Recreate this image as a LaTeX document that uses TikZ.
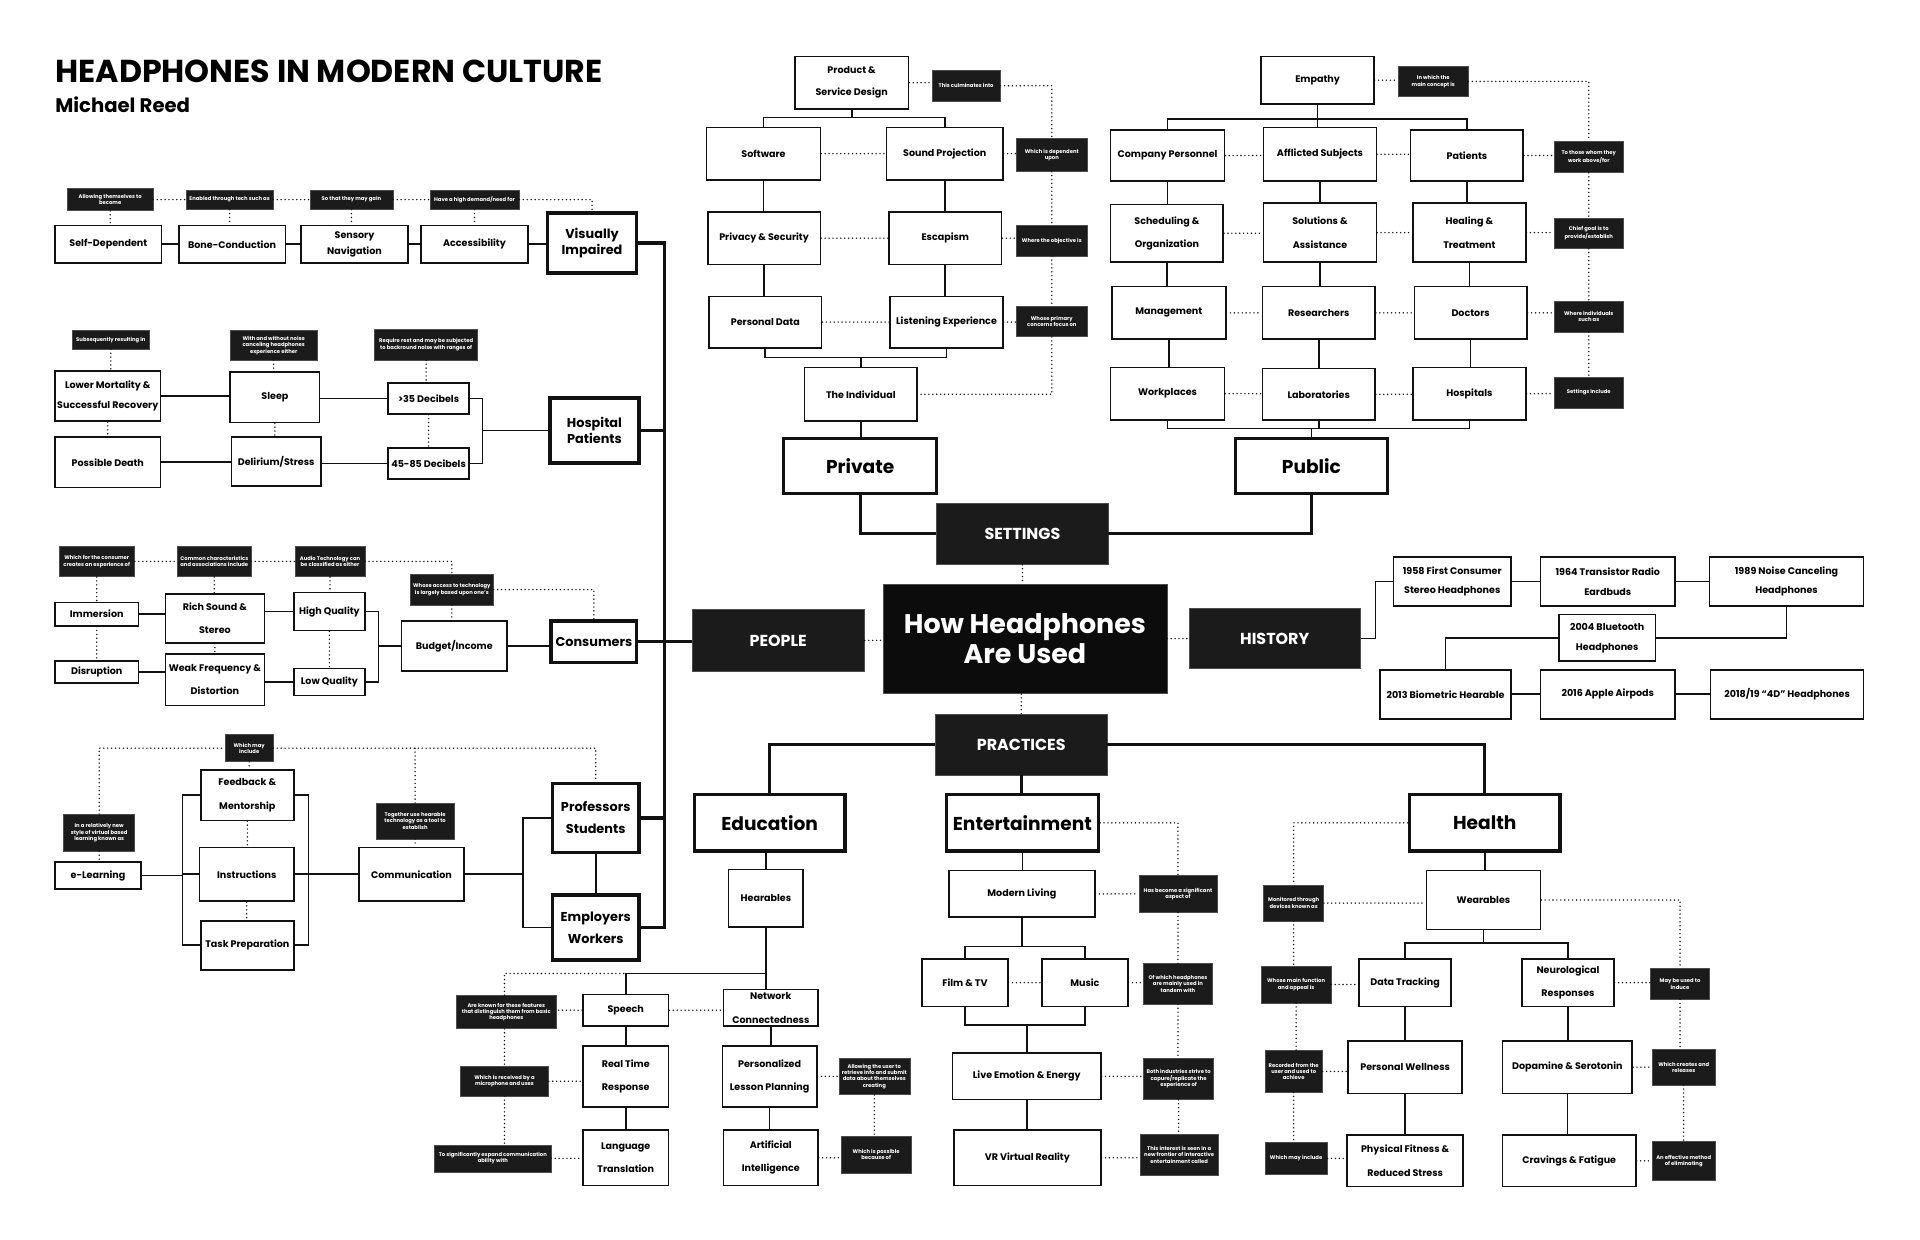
\documentclass[tikz,border=0pt]{standalone}
\usepackage{fontspec}
\setmainfont{Poppins}
\usetikzlibrary{calc}
\definecolor{ink}{HTML}{111111}
\definecolor{labbg}{HTML}{1B1B1B}
\definecolor{ctrbg}{HTML}{0C0C0C}
\tikzset{
  box/.style={draw=ink, line width=1.3pt, fill=white, align=center, inner sep=0pt, font=\fontsize{7.8}{18}\selectfont\bfseries},
  ls/.style={font=\fontsize{7.8}{#1}\selectfont\bfseries},
  tbox/.style={box, line width=2.8pt},
  pf/.style={font=\fontsize{10.5}{13}\selectfont\bfseries},
  pfb/.style={font=\fontsize{10.5}{18}\selectfont\bfseries},
  tf/.style={font=\fontsize{15.2}{17}\selectfont\bfseries},
  lab/.style={fill=labbg, draw=gray!60!black, line width=0.4pt, text=white, align=center, inner sep=0pt, font=\fontsize{4.3}{5.2}\selectfont\bfseries},
  cat/.style={fill=labbg, draw=gray!60!black, line width=0.5pt, text=white, inner sep=0pt, align=center, font=\fontsize{13}{15}\selectfont\bfseries},
  ctrs/.style={cat, fill=ctrbg, font=\fontsize{22}{25}\selectfont\bfseries},
  con/.style={draw=ink, line width=1.4pt},
  thk/.style={draw=ink, line width=2.6pt},
  dot/.style={draw=ink, line width=1.3pt, dash pattern=on 0pt off 3.2pt, line cap=round}
}
\newcommand\mybox[7]{%
  \pgfmathsetmacro\bxw{#4-#2}%
  \pgfmathsetmacro\bxh{#5-#3}%
  \pgfmathsetmacro\bxx{(#2+#4)/2}%
  \pgfmathsetmacro\bxy{(#3+#5)/2}%
  \node[#6, minimum width=\bxw pt, minimum height=\bxh pt] (#1) at (\bxx,\bxy) {#7};}
\begin{document}
\begin{tikzpicture}[x=1pt,y=-1pt]
\path[use as bounding box, fill=white] (0,0) rectangle (1568,1012);

% Title
\node[anchor=base west, inner sep=0pt, font=\bfseries] (title) at (45,67) {\resizebox{447pt}{!}{HEADPHONES IN MODERN CULTURE}};
\node[anchor=base west, inner sep=0pt, font=\bfseries] (author) at (45,92) {\resizebox{110pt}{!}{Michael Reed}};

% ---------- Visually impaired
\mybox{sd}{45}{184}{132}{215}{box}{Self-Dependent}
\mybox{bc}{146}{184}{233}{215}{box}{Bone-Conduction}
\mybox{sn}{246}{184}{333}{215}{box,ls=13}{Sensory\\Navigation}
\mybox{acc}{344}{184}{431}{215}{box}{Accessibility}
\mybox{vi}{447}{174}{520}{223}{tbox,pf}{Visually\\Impaired}
\mybox{l1}{55}{154}{125}{172}{lab}{Allowing themselves to\\become}
\mybox{l2}{152}{155}{223}{171}{lab}{Enabled through tech such as}
\mybox{l3}{253}{155}{321}{171}{lab}{So that they may gain}
\mybox{l4}{351}{155}{424}{171}{lab}{Have a high demand/need for}

% ---------- Hospital
\mybox{lm}{45}{303}{131}{344}{box,ls=16}{Lower Mortality \&\\Successful Recovery}
\mybox{pd}{45}{357}{131}{398}{box}{Possible Death}
\mybox{sl}{188}{304}{261}{345}{box}{Sleep}
\mybox{dst}{189}{357}{262}{397}{box}{Delirium/Stress}
\mybox{d35}{317}{313}{383}{338}{box}{>35 Decibels}
\mybox{d45}{317}{366}{383}{391}{box}{45-85 Decibels}
\mybox{hp}{449}{325}{522}{378}{tbox,pf}{Hospital\\Patients}
\mybox{h1}{59}{270}{122}{285}{lab}{Subsequently resulting in}
\mybox{h2}{188}{270}{259}{294}{lab}{With and without noise\\canceling headphones\\experience either}
\mybox{h3}{306}{269}{390}{294}{lab}{Require rest and may be subjected\\to backround noise with ranges of}

% ---------- Consumers
\mybox{im}{45}{492}{113}{511}{box}{Immersion}
\mybox{di}{45}{540}{113}{558}{box}{Disruption}
\mybox{rs}{135}{485}{216}{525}{box,ls=19}{Rich Sound \&\\Stereo}
\mybox{wf}{135}{534}{216}{576}{box,ls=19}{Weak Frequency \&\\Distortion}
\mybox{hq}{240}{484}{298}{515}{box}{High Quality}
\mybox{lq}{240}{546}{298}{568}{box}{Low Quality}
\mybox{bi}{328}{507}{414}{548}{box}{Budget/Income}
\mybox{co}{450}{507}{520}{541}{tbox,pf}{Consumers}
\mybox{c1}{48}{446}{110}{471}{lab}{Which for the consumer\\creates an experience of}
\mybox{c2}{145}{446}{205}{471}{lab}{Common characteristics\\and associations include}
\mybox{c3}{241}{446}{298}{471}{lab}{Audio Technology can\\be classified as either}
\mybox{c4}{335}{469}{403}{494}{lab}{Whose access to technology\\is largely based upon one's}

% ---------- Professors
\mybox{el}{45}{704}{115}{726}{box}{e-Learning}
\mybox{fm}{164}{629}{240}{670}{box,ls=19}{Feedback \&\\Mentorship}
\mybox{ins}{163}{692}{240}{736}{box}{Instructions}
\mybox{tp}{164}{752}{240}{792}{box}{Task Preparation}
\mybox{cm}{293}{692}{379}{736}{box}{Communication}
\mybox{ps}{451}{640}{522}{696}{tbox,pfb}{Professors\\Students}
\mybox{ew}{451}{731}{522}{784}{tbox,pfb}{Employers\\Workers}
\mybox{p1}{184}{600}{223}{622}{lab}{Which may\\include}
\mybox{p2}{52}{665}{110}{695}{lab}{In a relatively new\\style of virtual based\\learning known as}
\mybox{p3}{307}{656}{371}{685}{lab}{Together use hearable\\technology as a tool to\\establish}

% ---------- Private
\mybox{psd}{649}{46}{742}{89}{box}{Product \&\\Service Design}
\mybox{sw}{577}{104}{670}{147}{box}{Software}
\mybox{spj}{724}{104}{819}{147}{box}{Sound Projection}
\mybox{pse}{578}{173}{670}{216}{box}{Privacy \& Security}
\mybox{esc}{726}{173}{818}{216}{box}{Escapism}
\mybox{pda}{579}{242}{671}{284}{box}{Personal Data}
\mybox{le}{727}{242}{819}{284}{box}{Listening Experience}
\mybox{ti}{657}{300}{749}{344}{box}{The Individual}
\mybox{pri}{640}{358}{765}{403}{tbox,tf}{Private}
\mybox{q1}{761}{57}{817}{83}{lab}{This culminates into}
\mybox{q2}{830}{113}{888}{140}{lab}{Which is dependent\\upon}
\mybox{q3}{830}{184}{888}{209}{lab}{Where the objective is}
\mybox{q4}{830}{250}{888}{275}{lab}{Whose primary\\concerns focus on}

% ---------- Public
\mybox{emp}{1030}{46}{1122}{85}{box}{Empathy}
\mybox{cp}{907}{106}{1000}{148}{box}{Company Personnel}
\mybox{as}{1032}{104}{1124}{148}{box}{Afflicted Subjects}
\mybox{pat}{1152}{106}{1244}{148}{box}{Patients}
\mybox{sch}{907}{167}{999}{214}{box,ls=19}{Scheduling \&\\Organization}
\mybox{sol}{1032}{166}{1124}{214}{box,ls=19}{Solutions \&\\Assistance}
\mybox{hea}{1154}{166}{1246}{214}{box,ls=19}{Healing \&\\Treatment}
\mybox{mg}{908}{234}{1001}{277}{box}{Management}
\mybox{rsr}{1031}{234}{1123}{277}{box}{Researchers}
\mybox{doc}{1155}{234}{1247}{277}{box}{Doctors}
\mybox{wp}{907}{300}{1000}{343}{box}{Workplaces}
\mybox{lbs}{1031}{301}{1123}{343}{box}{Laboratories}
\mybox{hos}{1154}{300}{1246}{343}{box}{Hospitals}
\mybox{pub}{1009}{358}{1133}{403}{tbox,tf}{Public}
\mybox{r1}{1142}{54}{1199}{79}{lab}{In which the\\main concept is}
\mybox{t1}{1269}{115}{1326}{141}{lab}{To those whom they\\work above/for}
\mybox{t2}{1269}{178}{1326}{203}{lab}{Chief goal is to\\provide/establish}
\mybox{t3}{1269}{246}{1326}{271}{lab}{Where individuals\\such as}
\mybox{t4}{1269}{308}{1326}{333}{lab}{Settings Include}

% ---------- Center
\mybox{set}{765}{411}{905}{461}{cat}{SETTINGS}
\mybox{ctr}{721}{477}{953}{566}{ctrs}{How Headphones\\Are Used}
\mybox{ppl}{565}{498}{706}{548}{cat}{PEOPLE}
\mybox{his}{971}{497}{1111}{546}{cat}{HISTORY}
\mybox{pra}{764}{583}{904}{633}{cat}{PRACTICES}

% ---------- History
\mybox{h58}{1138}{455}{1234}{495}{box,ls=16}{1958 First Consumer\\Stereo Headphones}
\mybox{h64}{1258}{455}{1368}{495}{box,ls=16}{1964 Transistor Radio\\Eardbuds}
\mybox{h89}{1396}{455}{1522}{495}{box,ls=16}{1989 Noise Canceling\\Headphones}
\mybox{h04}{1273}{502}{1352}{540}{box,ls=16}{2004 Bluetooth\\Headphones}
\mybox{h13}{1127}{547}{1234}{587}{box}{2013 Biometric Hearable}
\mybox{h16}{1258}{547}{1368}{587}{box}{2016 Apple Airpods}
\mybox{h18}{1397}{547}{1522}{587}{box}{2018/19 “4D” Headphones}

% ---------- Practices
\mybox{edu}{567}{649}{690}{695}{tbox,tf}{Education}
\mybox{ent}{773}{649}{897}{695}{tbox,tf}{Entertainment}
\mybox{hlt}{1151}{649}{1274}{695}{tbox,tf}{Health}

% Education
\mybox{hrb}{595}{710}{656}{757}{box}{Hearables}
\mybox{spc}{476}{812}{546}{838}{box}{Speech}
\mybox{net}{591}{808}{668}{838}{box,ls=20}{Network\\Connectedness}
\mybox{rtr}{476}{854}{546}{904}{box,ls=19}{Real Time\\Response}
\mybox{ltr}{476}{923}{546}{968}{box,ls=19}{Language\\Translation}
\mybox{plp}{590}{854}{667}{904}{box,ls=19}{Personalized\\Lesson Planning}
\mybox{ai}{591}{923}{668}{968}{box,ls=19}{Artificial\\Intelligence}
\mybox{e1}{373}{813}{454}{840}{lab}{Are known for these features\\that distinguish them from basic\\headphones}
\mybox{e2}{376}{871}{448}{895}{lab}{Which is received by a\\microphone and uses}
\mybox{e3}{355}{935}{450}{957}{lab}{To significantly expand communication\\ability with}
\mybox{e4}{685}{864}{743}{894}{lab}{Allowing the user to\\retrieve info and submit\\data about themselves\\creating}
\mybox{e5}{687}{928}{744}{958}{lab}{Which is possible\\because of}

% Entertainment
\mybox{ml}{775}{711}{894}{749}{box}{Modern Living}
\mybox{flm}{753}{783}{823}{822}{box}{Film \& TV}
\mybox{mus}{851}{783}{921}{822}{box}{Music}
\mybox{lee}{778}{860}{899}{898}{box}{Live Emotion \& Energy}
\mybox{vr}{779}{923}{899}{968}{box}{VR Virtual Reality}
\mybox{n1}{930}{715}{994}{745}{lab}{Has become a significant\\aspect of}
\mybox{n2}{934}{787}{990}{820}{lab}{Of which headphones\\are mainly used in\\tandem with}
\mybox{n3}{934}{864}{991}{898}{lab}{Both industries strive to\\capure/replicate the\\experience of}
\mybox{n4}{931}{926}{995}{960}{lab}{This interest is seen in a\\new frontier of interactive\\entertainment called}

% Health
\mybox{wea}{1165}{711}{1258}{759}{box}{Wearables}
\mybox{dtr}{1110}{783}{1185}{822}{box}{Data Tracking}
\mybox{neu}{1243}{783}{1318}{822}{box,ls=19}{Neurological\\Responses}
\mybox{pw}{1101}{850}{1194}{893}{box}{Personal Wellness}
\mybox{dop}{1227}{850}{1333}{893}{box}{Dopamine \& Serotonin}
\mybox{pf}{1100}{927}{1195}{969}{box,ls=19}{Physical Fitness \&\\Reduced Stress}
\mybox{cf}{1227}{927}{1336}{969}{box}{Cravings \& Fatigue}
\mybox{m1}{1032}{723}{1081}{752}{lab}{Monitored through\\devices known as}
\mybox{m2}{1030}{789}{1087}{819}{lab}{Whose main function\\and appeal is}
\mybox{m3}{1033}{858}{1080}{892}{lab}{Recorded from the\\user and used to\\achieve}
\mybox{m4}{1033}{933}{1084}{959}{lab}{Which may include}
\mybox{k1}{1348}{791}{1396}{816}{lab}{May be used to\\induce}
\mybox{k2}{1349}{857}{1401}{886}{lab}{Which creates and\\releases}
\mybox{k3}{1349}{932}{1401}{964}{lab}{An effective method\\of eliminating}

% ================= CONNECTORS =================
% Visually impaired
\draw[con] (sd.east) -- (bc.west);
\draw[con] (bc.east) -- (sn.west);
\draw[con] (sn.east) -- (acc.west);
\draw[con] (acc.east) -- (acc.east -| vi.west);
\draw[dot] (l1.east) -- (l1.east -| l2.west);
\draw[dot] (l2.east) -- (l2.east -| l3.west);
\draw[dot] (l3.east) -- (l3.east -| l4.west);
\draw[dot] (l4.east) -| (vi.north);
\draw[dot] (l1.south) -- (l1.south |- sd.north);
\draw[dot] (l2.south) -- (l2.south |- bc.north);
\draw[dot] (l3.south) -- (l3.south |- sn.north);
\draw[dot] (l4.south) -- (l4.south |- acc.north);

% spine
\coordinate (sp) at (543,199);
\draw[thk] (vi.east) -- (vi.east -| sp) -- (sp |- ew.east) -- (ew.east);
\draw[thk] (hp.east) -- (hp.east -| sp);
\draw[thk] (co.east) -- (co.east -| ppl.west);
\draw[thk] (ps.east) -- (ps.east -| sp);

% Hospital
\draw[con] (lm.east) -- (lm.east -| sl.west);
\draw[con] (d35.west -| sl.east) -- (d35.west);
\draw[con] (pd.east) -- (pd.east -| dst.west);
\draw[con] (d45.west -| dst.east) -- (d45.west);
\coordinate (hbr) at (394,0);
\draw[con] (d35.east) -- (d35.east -| hbr) -- (hbr |- d45.east) -- (d45.east);
\draw[con] (hbr |- hp.west) -- (hp.west);
\draw[dot] (h1.south) -- (h1.south |- lm.north);
\draw[dot] (lm.south) -- (lm.south |- pd.north);
\draw[dot] (h2.south) -- (h2.south |- sl.north);
\draw[dot] (sl.south) -- (sl.south |- dst.north);
\draw[dot] (h3.south) -- (h3.south |- d35.north);
\draw[dot] (d35.south) -- (d35.south |- d45.north);

% Consumers
\draw[con] (im.east) -- (im.east -| rs.west);
\draw[con] (di.east) -- (di.east -| wf.west);
\draw[con] (hq.west) -- (hq.west -| rs.east);
\draw[con] (lq.west) -- (lq.west -| wf.east);
\coordinate (cbr) at (309,0);
\draw[con] (hq.east) -- (hq.east -| cbr) -- (cbr |- lq.east) -- (lq.east);
\draw[con] (cbr |- bi.west) -- (bi.west);
\draw[con] (bi.east) -- (bi.east -| co.west);
\draw[dot] (c1.east) -- (c1.east -| c2.west);
\draw[dot] (c2.east) -- (c2.east -| c3.west);
\draw[dot] (c3.east) -| (c4.north);
\draw[dot] (c4.east) -| (co.north);
\draw[dot] (c1.south) -- (c1.south |- im.north);
\draw[dot] (im.south) -- (im.south |- di.north);
\draw[dot] (c2.south) -- (c2.south |- rs.north);
\draw[dot] (rs.south) -- (rs.south |- wf.north);
\draw[dot] (c3.south) -- (c3.south |- hq.north);
\draw[dot] (hq.south) -- (hq.south |- lq.north);
\draw[dot] (c4.south) -- (c4.south |- bi.north);

% Professors
\coordinate (pbL) at (149,0);
\coordinate (pbR) at (252,0);
\coordinate (pbC) at (427,0);
\draw[con] (fm.west) -- (fm.west -| pbL) -- (pbL |- tp.west) -- (tp.west);
\draw[con] (el.east) -- (el.east -| pbL);
\draw[con] (ins.west) -- (ins.west -| pbL);
\draw[con] (fm.east) -- (fm.east -| pbR) -- (pbR |- tp.east) -- (tp.east);
\draw[con] (ins.east) -- (ins.east -| cm.west);
\draw[con] (cm.east) -- (cm.east -| pbC);
\draw[con] (ps.west) -- (ps.west -| pbC) -- (pbC |- ew.west) -- (ew.west);
\draw[con] (ps.south) -- (ps.south |- ew.north);
\draw[dot] (p2.north) |- (p1.west);
\draw[dot] (p1.east) -| (ps.north);
\draw[dot] (p3.north) -- (p3.north |- p1.east);
\draw[dot] (p1.south) -- (p1.south |- fm.north);
\draw[dot] (fm.south) -- (fm.south |- ins.north);
\draw[dot] (ins.south) -- (ins.south |- tp.north);
\draw[dot] (p2.south) -- (p2.south |- el.north);
\draw[dot] (p3.south) -- (p3.south |- cm.north);

% Private
\coordinate (hpt) at (0,96);
\draw[con] (sw.north) |- (hpt -| psd.south) -| (spj.north);
\draw[con] (psd.south) -- (psd.south |- hpt);
\draw[con] (sw.south) -- (sw.south |- pse.north);
\draw[con] (pse.south) -- (pse.south |- pda.north);
\draw[con] (spj.south) -- (spj.south |- esc.north);
\draw[con] (esc.south) -- (esc.south |- le.north);
\coordinate (hpb) at (0,292);
\draw[con] (pda.south) |- (hpb -| ti.north) -| (le.south);
\draw[con] (ti.north) -- (ti.north |- hpb);
\draw[con] (ti.south) -- (ti.south |- pri.north);
\draw[dot] (psd.east) -- (psd.east -| q1.west);
\draw[dot] (q1.east) -| (q2.north);
\draw[dot] (q2.south) -- (q2.south |- q3.north);
\draw[dot] (q3.south) -- (q3.south |- q4.north);
\draw[dot] (q4.south) |- (ti.east);
\draw[dot] (sw.east) -- (sw.east -| spj.west);
\draw[dot] (spj.east) -- (spj.east -| q2.west);
\draw[dot] (pse.east) -- (pse.east -| esc.west);
\draw[dot] (esc.east) -- (esc.east -| q3.west);
\draw[dot] (pda.east) -- (pda.east -| le.west);
\draw[dot] (le.east) -- (le.east -| q4.west);

% Public
\coordinate (hqt) at (0,97);
\draw[con] (cp.north) |- (hqt -| emp.south) -| (pat.north);
\draw[con] (emp.south) -- (emp.south |- as.north);
\draw[con] (cp.south) -- (cp.south |- sch.north);
\draw[con] (sch.south) -- (sch.south |- mg.north);
\draw[con] (mg.south) -- (mg.south |- wp.north);
\draw[con] (as.south) -- (as.south |- sol.north);
\draw[con] (sol.south) -- (sol.south |- rsr.north);
\draw[con] (rsr.south) -- (rsr.south |- lbs.north);
\draw[con] (pat.south) -- (pat.south |- hea.north);
\draw[con] (hea.south) -- (hea.south |- doc.north);
\draw[con] (doc.south) -- (doc.south |- hos.north);
\coordinate (hqb) at (0,350);
\draw[con] (wp.south) |- (hqb -| hos.south) -- (hos.south);
\draw[con] (lbs.south) -- (lbs.south |- hqb);
\draw[con] (pub.north) -- (pub.north |- hqb);
\draw[dot] (emp.east) -- (emp.east -| r1.west);
\draw[dot] (r1.east) -| (t1.north);
\draw[dot] (t1.south) -- (t1.south |- t2.north);
\draw[dot] (t2.south) -- (t2.south |- t3.north);
\draw[dot] (t3.south) -- (t3.south |- t4.north);
\draw[dot] (cp.east) -- (cp.east -| as.west);
\draw[dot] (as.east) -- (as.east -| pat.west);
\draw[dot] (pat.east) -- (pat.east -| t1.west);
\draw[dot] (sch.east) -- (sch.east -| sol.west);
\draw[dot] (sol.east) -- (sol.east -| hea.west);
\draw[dot] (hea.east) -- (hea.east -| t2.west);
\draw[dot] (mg.east) -- (mg.east -| rsr.west);
\draw[dot] (rsr.east) -- (rsr.east -| doc.west);
\draw[dot] (doc.east) -- (doc.east -| t3.west);
\draw[dot] (wp.east) -- (wp.east -| lbs.west);
\draw[dot] (lbs.east) -- (lbs.east -| hos.west);
\draw[dot] (hos.east) -- (hos.east -| t4.west);

% Settings
\draw[thk] (pri.south) |- (set.west);
\draw[thk] (pub.south) |- (set.east);

% Center dotted
\draw[dot] (set.south) -- (set.south |- ctr.north);
\draw[dot] (pra.north) -- (pra.north |- ctr.south);
\draw[dot] (ppl.east) -- (ppl.east -| ctr.west);
\draw[dot] (ctr.east) -- (ctr.east -| his.west);

% History
\draw[con] (his.east) -- ++(12,0) |- (h58.west);
\draw[con] (h58.east) -- (h64.west);
\draw[con] (h64.east) -- (h89.west);
\draw[con] (h89.south) |- (h04.east);
\draw[con] (h04.west) -| (h13.north);
\draw[con] (h13.east) -- (h16.west);
\draw[con] (h16.east) -- (h18.west);

% Practices
\draw[thk] (pra.west) -| (edu.north);
\draw[thk] (pra.south) -- (pra.south |- ent.north);
\draw[thk] (pra.east) -| (hlt.north);

% Education
\coordinate (hbd) at (0,795);
\coordinate (ev) at (412,0);
\draw[con] (hrb.north) -- (hrb.north |- edu.south);
\draw[con] (spc.north) |- (hbd -| hrb.south) -- (hrb.south);
\draw[con] (hbd -| hrb.south) -- (net.north -| hrb.south);
\draw[con] (spc.south) -- (spc.south |- rtr.north);
\draw[con] (rtr.south) -- (rtr.south |- ltr.north);
\draw[con] (net.south) -- (net.south |- plp.north);
\draw[con] (plp.south) -- (plp.south |- ai.north);
\draw[dot] (ev |- e1.north) |- (hbd -| spc.north);
\draw[dot] (spc.west) -- (spc.west -| e1.east);
\draw[dot] (spc.east) -- (spc.east -| net.west);
\draw[dot] (ev |- e1.south) -- (ev |- e2.north);
\draw[dot] (ev |- e2.south) -- (ev |- e3.north);
\draw[dot] (e2.east) -- (e2.east -| rtr.west);
\draw[dot] (e3.east) -- (e3.east -| ltr.west);
\draw[dot] (plp.east) -- (plp.east -| e4.west);
\draw[dot] (ai.east) -- (ai.east -| e5.west);
\draw[dot] (e4.south) -- (e4.south |- e5.north);

% Entertainment
\coordinate (hbe) at (0,773);
\coordinate (hbf) at (0,837);
\draw[con] (ent.south) -- (ent.south |- ml.north);
\draw[con] (ml.south) -- (ml.south |- hbe);
\draw[con] (flm.north) |- (hbe -| ml.south) -| (mus.north);
\draw[con] (flm.south) |- (hbf -| lee.north) -| (mus.south);
\draw[con] (lee.north) -- (lee.north |- hbf);
\draw[con] (lee.south) -- (lee.south |- vr.north);
\draw[dot] (ent.east) -| (n1.north);
\draw[dot] (ml.east) -- (ml.east -| n1.west);
\draw[dot] (n1.south) -- (n1.south |- n2.north);
\draw[dot] (n2.south) -- (n2.south |- n3.north);
\draw[dot] (n3.south) -- (n3.south |- n4.north);
\draw[dot] (flm.east) -- (flm.east -| mus.west);
\draw[dot] (mus.east) -- (mus.east -| n2.west);
\draw[dot] (lee.east) -- (lee.east -| n3.west);
\draw[dot] (vr.east) -- (vr.east -| n4.west);

% Health
\coordinate (hbh) at (0,770);
\draw[con] (hlt.south) -- (hlt.south |- wea.north);
\draw[con] (wea.south) -- (wea.south |- hbh);
\draw[con] (dtr.north) |- (hbh -| wea.south) -| (neu.north);
\draw[con] (dtr.south) -- (dtr.south |- pw.north);
\draw[con] (pw.south) -- (pw.south |- pf.north);
\draw[con] (neu.south) -- (neu.south |- dop.north);
\draw[con] (dop.south) -- (dop.south |- cf.north);
\draw[dot] (hlt.west) -| (m1.north);
\draw[dot] (m1.east) -- (m1.east -| wea.west);
\draw[dot] (m2.east) -- (m2.east -| dtr.west);
\draw[dot] (m3.east) -- (m3.east -| pw.west);
\draw[dot] (m4.east) -- (m4.east -| pf.west);
\draw[dot] (m1.south) -- (m1.south |- m2.north);
\draw[dot] (m2.south) -- (m2.south |- m3.north);
\draw[dot] (m3.south) -- (m3.south |- m4.north);
\draw[dot] (wea.east) -| (k1.north);
\draw[dot] (neu.east) -- (neu.east -| k1.west);
\draw[dot] (dop.east) -- (dop.east -| k2.west);
\draw[dot] (cf.east) -- (cf.east -| k3.west);
\draw[dot] (k1.south) -- (k1.south |- k2.north);
\draw[dot] (k2.south) -- (k2.south |- k3.north);
\end{tikzpicture}
\end{document}
